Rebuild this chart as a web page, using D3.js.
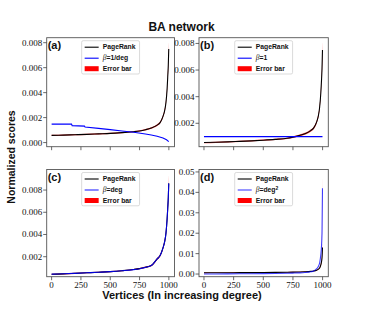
<!DOCTYPE html>
<html lang="en">
  <head>
    <meta charset="UTF-8" />
    <title>BA network</title>
    <style>
      body {
        margin: 0;
        background: #fff;
      }
      svg text {
        fill: #111;
      }
      .tick {
        font-family: "Liberation Serif", serif;
        font-size: 9px;
      }
      .lg {
        font-family: "Liberation Sans", sans-serif;
        font-size: 6.8px;
        font-weight: bold;
      }
    </style>
  </head>
  <body>
    <svg width="365" height="313" id="chart"></svg>

    <script src="https://d3js.org/d3.v7.min.js"></script>
    <script>
      var xs = [0, 100, 200, 300, 400, 500, 600, 700, 750, 800, 850, 900, 925, 950, 965, 975, 985, 990, 995, 999];

      var prA = [0.00058, 0.0006, 0.00063, 0.00066, 0.0007, 0.00074, 0.0008, 0.00087, 0.00093, 0.00103, 0.00117, 0.0014, 0.0016, 0.0021, 0.0026, 0.0032, 0.0043, 0.0052, 0.0062, 0.0075];
      var errA = [0.00005, 0.00005, 0.00005, 0.00005, 0.00005, 0.00005, 0.00005, 0.00005, 0.00005, 0.00006, 0.00006, 0.00007, 0.00008, 0.0001, 0.00012, 0.00015, 0.0002, 0.00025, 0.00035, 0.0006];
      var betaAx = [0, 170, 175, 280, 285, 400, 500, 600, 700, 800, 850, 900, 950, 980, 999];
      var betaA = [0.00148, 0.00148, 0.00136, 0.00132, 0.00124, 0.00114, 0.00104, 0.00093, 0.00083, 0.00069, 0.00061, 0.00051, 0.00036, 0.00022, 0.00008];

      var prB = [0.00055, 0.00057, 0.0006, 0.00064, 0.00068, 0.00073, 0.00079, 0.00087, 0.00096, 0.00107, 0.00121, 0.00145, 0.00165, 0.0021, 0.0026, 0.0032, 0.0043, 0.0051, 0.0061, 0.0075];
      var errB = [0.00005, 0.00005, 0.00005, 0.00005, 0.00005, 0.00005, 0.00005, 0.00005, 0.00006, 0.00006, 0.00007, 0.00008, 0.00009, 0.00011, 0.00013, 0.00016, 0.0002, 0.00025, 0.00035, 0.0007];
      var betaBx = [0, 999];
      var betaB = [0.001, 0.001];

      var prC = [0.00042, 0.00045, 0.0005, 0.00055, 0.0006, 0.00066, 0.00074, 0.00085, 0.00093, 0.00105, 0.0012, 0.0018, 0.0021, 0.0028, 0.0034, 0.0041, 0.0054, 0.0063, 0.0073, 0.0086];
      var errC = [0.00005, 0.00005, 0.00005, 0.00005, 0.00005, 0.00005, 0.00005, 0.00005, 0.00006, 0.00006, 0.00007, 0.00009, 0.0001, 0.00012, 0.00014, 0.00016, 0.0002, 0.00025, 0.00035, 0.0008];
      var betaC = [0.00043, 0.00046, 0.0005, 0.00055, 0.0006, 0.00066, 0.00074, 0.00084, 0.00092, 0.00104, 0.0012, 0.0018, 0.0021, 0.0028, 0.0034, 0.0041, 0.0054, 0.0063, 0.0073, 0.0086];

      var prD = [0.0006, 0.00062, 0.00065, 0.00068, 0.00071, 0.00075, 0.0008, 0.00088, 0.00093, 0.001, 0.0011, 0.0013, 0.0015, 0.0019, 0.0024, 0.003, 0.0045, 0.0058, 0.008, 0.013];
      var errD = [0.00015, 0.00015, 0.00015, 0.00015, 0.00015, 0.00015, 0.00015, 0.00015, 0.00015, 0.00015, 0.00015, 0.00015, 0.00015, 0.0002, 0.00025, 0.0003, 0.0005, 0.0007, 0.0011, 0.0025];
      var betaD = [0.00003, 0.00005, 0.00008, 0.00012, 0.00017, 0.00023, 0.0003, 0.0004, 0.00047, 0.00056, 0.00072, 0.0011, 0.0015, 0.0026, 0.0038, 0.0055, 0.0095, 0.013, 0.02, 0.042];
      var betaErrD = [0, 0, 0, 0, 0, 0, 0, 0, 0, 0, 0, 0, 0, 0, 0, 0, 0, 0, 0.002, 0.007];

      var xTicks = [0, 250, 500, 750, 1000];
      var yTicks3 = [0, 0.002, 0.004, 0.006, 0.008];
      var yTicks2 = [0, 0.01, 0.02, 0.03, 0.04, 0.05];

      var panels = [
        { tag: "(a)", x0: 46.7, x1: 174.5, y0: 37.7, y1: 146.7, dom: [-0.00033, 0.0084], yt: yTicks3, fmt: ".3f",
          pr: prA, err: errA, bx: betaAx, beta: betaA, label: ["=1/deg", ""], xlab: false, bop: 1 },
        { tag: "(b)", x0: 199, x1: 328.3, y0: 37.7, y1: 146.7, dom: [0.00024, 0.00843], yt: yTicks3, fmt: ".3f",
          pr: prB, err: errB, bx: betaBx, beta: betaB, label: ["=1", ""], xlab: false, bop: 1 },
        { tag: "(c)", x0: 46.7, x1: 174.5, y0: 169.5, y1: 276.7, dom: [0.0002, 0.00985], yt: yTicks3, fmt: ".3f",
          pr: prC, err: errC, bx: xs, beta: betaC, label: ["=deg", ""], xlab: true, bop: 0.85 },
        { tag: "(d)", x0: 199, x1: 328.3, y0: 169.5, y1: 276.7, dom: [-0.0013, 0.0512], yt: yTicks2, fmt: ".2f",
          pr: prD, err: errD, bx: xs, beta: betaD, berr: betaErrD, label: ["=deg", "2"], xlab: true, bop: 0.75 }
      ];

      var svg = d3.select("#chart");

      svg.append("text")
        .attr("x", 181.5).attr("y", 31)
        .attr("text-anchor", "middle")
        .style("font-family", "Liberation Sans, sans-serif")
        .style("font-size", "12px").style("font-weight", "bold")
        .text("BA network");

      svg.append("text")
        .attr("transform", "translate(15,157) rotate(-90)")
        .attr("text-anchor", "middle")
        .style("font-family", "Liberation Sans, sans-serif")
        .style("font-size", "10.5px").style("font-weight", "bold")
        .text("Normalized scores");

      svg.append("text")
        .attr("x", 182).attr("y", 298.5)
        .attr("text-anchor", "middle")
        .style("font-family", "Liberation Sans, sans-serif")
        .style("font-size", "11px").style("font-weight", "bold")
        .text("Vertices (In increasing degree)");

      panels.forEach(function (p, k) {
        var x = d3.scaleLinear().domain([-42, 1048]).range([p.x0, p.x1]);
        var y = d3.scaleLinear().domain(p.dom).range([p.y1, p.y0]);
        var g = svg.append("g");
        var clipId = "clip" + k;
        g.append("clipPath").attr("id", clipId)
          .append("rect").attr("x", p.x0).attr("y", p.y0)
          .attr("width", p.x1 - p.x0).attr("height", p.y1 - p.y0);
        var plot = g.append("g").attr("clip-path", "url(#" + clipId + ")");

        var band = d3.area()
          .x(function (d) { return x(d.x); })
          .y0(function (d) { return y(d.v - d.e); })
          .y1(function (d) { return y(d.v + d.e); })
          .curve(d3.curveMonotoneX);
        var line = d3.line()
          .x(function (d) { return x(d.x); })
          .y(function (d) { return y(d.v); })
          .curve(d3.curveMonotoneX);

        var prPts = xs.map(function (v, i) { return { x: v, v: p.pr[i], e: p.err[i] }; });
        var bPts = p.bx.map(function (v, i) { return { x: v, v: p.beta[i], e: p.berr ? p.berr[i] : 0 }; });

        plot.append("path").attr("d", band(prPts)).attr("fill", "#ff1a1a").attr("fill-opacity", 0.8);
        if (p.berr) {
          plot.append("path").attr("d", band(bPts.slice(-3))).attr("fill", "#ff4d4d").attr("fill-opacity", 0.7);
        }
        plot.append("path").attr("d", line(prPts))
          .attr("fill", "none").attr("stroke", "#000").attr("stroke-width", 1.1);
        plot.append("path").attr("d", k == 0 ? d3.line().x(function (d) { return x(d.x); }).y(function (d) { return y(d.v); })(bPts) : line(bPts))
          .attr("fill", "none").attr("stroke", "#0000ff").attr("stroke-opacity", p.bop).attr("stroke-width", 1.1);

        // frame
        g.append("rect").attr("x", p.x0).attr("y", p.y0)
          .attr("width", p.x1 - p.x0).attr("height", p.y1 - p.y0)
          .attr("fill", "none").attr("stroke", "#555").attr("stroke-width", 0.9);

        // y ticks
        var yt = p.yt.filter(function (t) { return t >= p.dom[0] && t <= p.dom[1]; });
        var ty = g.selectAll(".yt").data(yt).join("g")
          .attr("transform", function (d) { return "translate(" + p.x0 + "," + y(d) + ")"; });
        ty.append("line").attr("x1", -3.5).attr("x2", 0).attr("stroke", "#444").attr("stroke-width", 0.8);
        ty.append("text").attr("class", "tick").attr("x", -4.5).attr("dy", "0.33em")
          .attr("text-anchor", "end").text(function (d) { return d3.format(p.fmt)(d); });

        // x ticks
        var tx = g.selectAll(".xt").data(xTicks).join("g")
          .attr("transform", function (d) { return "translate(" + x(d) + "," + p.y1 + ")"; });
        tx.append("line").attr("y1", 0).attr("y2", 3.5).attr("stroke", "#444").attr("stroke-width", 0.8);
        if (p.xlab) {
          tx.append("text").attr("class", "tick").attr("y", 11.5)
            .attr("text-anchor", "middle").text(function (d) { return d; });
        }

        // panel tag
        g.append("text").attr("x", p.x0 + 1).attr("y", p.y0 + 11)
          .style("font-family", "Liberation Sans, sans-serif")
          .style("font-size", "11px").style("font-weight", "bold")
          .text(p.tag);

        // legend
        var lg = g.append("g");
        var box = lg.append("rect").attr("rx", 1.5)
          .attr("fill", "#fff").attr("fill-opacity", 0.85)
          .attr("stroke", "#ccc").attr("stroke-width", 0.7);
        var t0 = lg.append("text").attr("class", "lg").attr("x", 21).attr("y", 8.7).text("PageRank");
        var t1 = lg.append("text").attr("class", "lg").attr("x", 21).attr("y", 19.7);
        t1.append("tspan").style("font-family", "Liberation Serif, serif").style("font-style", "italic")
          .style("font-weight", "normal").style("font-size", "7.5px").text("\u03b2");
        t1.append("tspan").text(p.label[0]);
        if (p.label[1]) {
          t1.append("tspan").attr("dy", -2.5).style("font-size", "5px").text(p.label[1]);
        }
        var t2 = lg.append("text").attr("class", "lg").attr("x", 21).attr("y", 30.7).text("Error bar");
        lg.append("line").attr("x1", 3).attr("x2", 17).attr("y1", 6.5).attr("y2", 6.5)
          .attr("stroke", "#000").attr("stroke-width", 1.1);
        lg.append("line").attr("x1", 3).attr("x2", 17).attr("y1", 17.5).attr("y2", 17.5)
          .attr("stroke", "#0000ff").attr("stroke-opacity", p.bop).attr("stroke-width", 1.1);
        lg.append("rect").attr("x", 3).attr("y", 25.5).attr("width", 14).attr("height", 5)
          .attr("fill", "#ff0000");
        var wmax = d3.max([t0, t1, t2], function (t) { return t.node().getComputedTextLength(); });
        var bw = 21 + wmax + 4;
        box.attr("width", bw).attr("height", 33.3);
        lg.attr("transform", "translate(" + ((p.x0 + p.x1) / 2 - bw / 2) + "," + (p.y0 + 3) + ")");
      });
    </script>
  </body>
</html>
